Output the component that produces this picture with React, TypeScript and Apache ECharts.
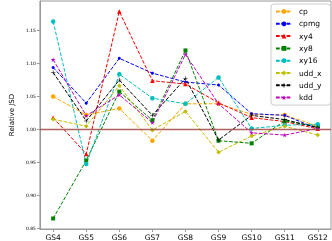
import React, { useEffect, useRef } from "react";
import * as echarts from "echarts";

const categories = ["GS4", "GS5", "GS6", "GS7", "GS8", "GS9", "GS10", "GS11", "GS12"];
const yTicks = [0.85, 0.9, 0.95, 1.0, 1.05, 1.1, 1.15];

const cp = [1.05, 1.022, 1.032, 0.983, 1.039, 1.039, 1.023, 1.022, 1.005];
const cpmg = [1.094, 1.04, 1.108, 1.0855, 1.072, 1.0675, 1.024, 1.0215, 1.001];
const xy4 = [1.018, 0.963, 1.179, 1.074, 1.069, 1.0405, 1.018, 1.012, 1.001];
const xy8 = [0.865, 0.953, 1.0575, 1.014, 1.12, 0.983, 0.979, 1.013, 1.004];
const xy16 = [1.164, 0.9475, 1.084, 1.0475, 1.039, 1.079, 1.0015, 1.0065, 1.008];
const udd_x = [1.0155, 1.005, 1.0665, 0.999, 1.0275, 0.9655, 0.99, 1.005, 0.9915];
const udd_y = [1.0865, 1.013, 1.075, 1.0215, 1.0775, 0.984, 1.0215, 1.015, 1.003];
const kdd = [1.106, 1.021, 1.0525, 1.0105, 1.114, 1.039, 0.995, 0.9915, 1.0015];

const seriesNames = ["cp", "cpmg", "xy4", "xy8", "xy16", "udd_x", "udd_y", "kdd"];
const seriesData = [cp, cpmg, xy4, xy8, xy16, udd_x, udd_y, kdd];
const colors = ["#FFA500", "#0000FF", "#FF0000", "#008000", "#00BFBF", "#BFBF00", "#000000", "#BF00BF"];
const PLUS_THIN = "path://M4.4,0H5.6V4.4H10V5.6H5.6V10H4.4V5.6H0V4.4H4.4Z";
const STAR = "path://M5,0L6.2,3.6H10L7,5.8L8.1,9.5L5,7.3L1.9,9.5L3,5.8L0,3.6H3.8Z";
const symbols = ["circle", "circle", "triangle", "rect", "circle", "diamond", PLUS_THIN, STAR];
const symbolSizes = [4.5, 3, 4.5, 4, 4.5, 4.5, 4.5, 4.5];

export default function App() {
  const ref = useRef<HTMLDivElement>(null);
  useEffect(() => {
    if (!ref.current) return;
    const chart = echarts.init(ref.current, undefined, { renderer: "svg" });
    const font = "DejaVu Sans";
    const series: any[] = seriesNames.map((name, si) => ({
      name,
      type: "line",
      data: seriesData[si].map((v, i) => [i, v]),
      symbol: symbols[si],
      symbolSize: symbolSizes[si],
      itemStyle: { color: colors[si] },
      lineStyle: { color: colors[si], width: 1, type: [3.7, 1.6] },
      showSymbol: true,
    }));
    series[0].markLine = {
      silent: true,
      symbol: "none",
      label: { show: false },
      lineStyle: { color: "#A0483F", width: 1.3, type: "solid", opacity: 0.85 },
      data: [{ yAxis: 1.0 }],
    };
    chart.setOption({
      animation: false,
      textStyle: { fontFamily: font },
      grid: {
        left: 26,
        right: 1,
        top: 1,
        bottom: 12,
        show: true,
        borderColor: "#999",
        borderWidth: 1,
        containLabel: false,
      },
      legend: {
        left: 271,
        top: 4,
        orient: "vertical",
        data: seriesNames,
        itemWidth: 16,
        itemHeight: 6,
        itemGap: 3.3,
        padding: [3, 9, 3, 4],
        backgroundColor: "rgba(255,255,255,0.85)",
        borderColor: "#ccc",
        borderWidth: 1,
        borderRadius: 3,
        textStyle: { fontFamily: font, fontSize: 7.5, lineHeight: 9, color: "#000", padding: [0, 0, 0, 2] },
      },
      xAxis: {
        type: "value",
        min: -0.4,
        max: 8.4,
        splitLine: { show: false },
        axisLine: { show: true, onZero: false, lineStyle: { color: "#999" } },
        axisTick: { show: true, length: 3, lineStyle: { color: "#999" }, customValues: categories.map((_, i) => i) },
        axisLabel: {
          customValues: categories.map((_, i) => i),
          formatter: (v: number) => categories[Math.round(v)] ?? "",
          fontSize: 7.5,
          color: "#000",
          margin: 4,
          fontFamily: font,
        },
      },
      yAxis: {
        type: "value",
        min: 0.849,
        max: 1.195,
        name: "Relative JSD",
        nameLocation: "middle",
        nameGap: 14,
        nameTextStyle: { fontSize: 7, color: "#000", fontFamily: font },
        splitLine: { show: false },
        axisLine: { show: true, onZero: false, lineStyle: { color: "#999" } },
        axisTick: { show: true, length: 3, lineStyle: { color: "#999" }, customValues: yTicks },
        axisLabel: {
          customValues: yTicks,
          formatter: (v: number) => v.toFixed(2),
          fontSize: 4.5,
          color: "#000",
          margin: 4,
          fontFamily: font,
        },
      },
      series,
    });
    return () => chart.dispose();
  }, []);
  return <div ref={ref} style={{ width: 332, height: 241, position: "fixed", left: 0, top: 0 }} />;
}
